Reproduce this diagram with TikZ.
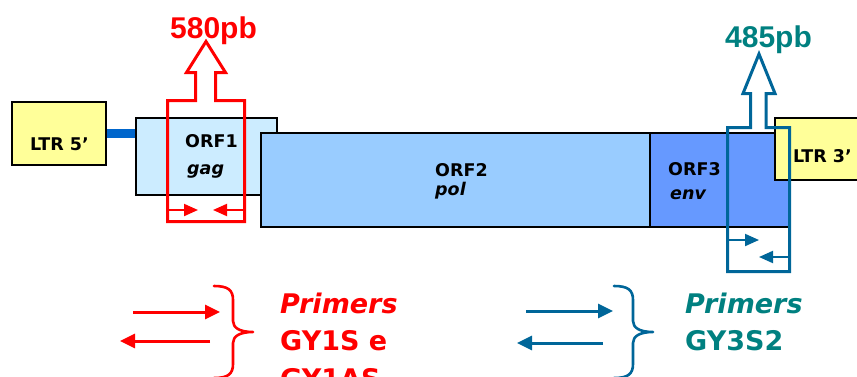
\documentclass[tikz,border=0pt]{standalone}
\usepackage{fontspec}
\setmainfont{DejaVu Sans}
\newfontfamily\arialb{Liberation Sans}
\usetikzlibrary{arrows.meta}
\definecolor{ltry}{HTML}{FFFF99}
\definecolor{orfa}{HTML}{CCECFF}
\definecolor{orfb}{HTML}{99CCFF}
\definecolor{orfc}{HTML}{6699FF}
\definecolor{linkblue}{HTML}{0066CC}
\definecolor{pblue}{HTML}{006699}
\definecolor{pteal}{HTML}{008080}
\definecolor{pred}{HTML}{FF0000}
\tikzset{
  genebox/.style={draw=black, line width=1.8pt, inner sep=0pt, anchor=north west},
  lbl/.style={inner sep=0pt, anchor=base west, font=\bfseries\fontsize{17.5}{18}\selectfont},
  ilbl/.style={inner sep=0pt, anchor=base west, font=\bfseries\itshape\fontsize{17.5}{18}\selectfont},
  pblbl/.style={inner sep=0pt, anchor=base west, font=\arialb\bfseries\fontsize{30}{30}\selectfont},
  primtxt/.style={inner sep=0pt, anchor=base west, font=\bfseries\fontsize{27}{27}\selectfont},
  primital/.style={inner sep=0pt, anchor=base west, font=\bfseries\itshape\fontsize{27}{27}\selectfont},
  inarrow/.style={line width=2pt, -{Triangle[length=14pt,width=12pt]}},
  primarrow/.style={line width=3pt, -{Triangle[length=15pt,width=14pt]}},
  bracep/.style={line width=2.6pt, line cap=round, line join=round},
}
\begin{document}
\begin{tikzpicture}[x=1pt,y=-1pt]
\useasboundingbox (0,0) rectangle (857,376);
\begin{scope}
\clip (0,0) rectangle (857,376);
% boxes
\node[genebox, fill=ltry, minimum width=94pt, minimum height=63pt] (ltr5) at (11,101) {};
\node[genebox, fill=orfa, minimum width=141pt, minimum height=77pt] (orf1) at (135,117) {};
\draw[linkblue, line width=9pt] (ltr5.east) -- (ltr5.east -| orf1.west);
\node[genebox, fill=orfb, minimum width=389pt, minimum height=94pt] (orf2) at (260,132) {};
\node[genebox, fill=orfc, minimum width=139pt, minimum height=94pt] (orf3) at (649,132) {};
\node[genebox, fill=ltry, minimum width=100pt, minimum height=62pt] (ltr3) at (774,117) {};
% labels
\node[lbl] (tltr5) at (30,150) {LTR 5’};
\node[lbl] (torf1) at (185,147) {ORF1};
\node[ilbl] (tgag) at (187,174) {gag};
\node[lbl] (torf2) at (435,176) {ORF2};
\node[ilbl] (tpol) at (435,195) {pol};
\node[lbl] (torf3) at (668,175) {ORF3};
\node[ilbl] (tenv) at (670,199) {env};
\node[lbl] (tltr3) at (793,162) {LTR 3’};
% red amplicon outline
\draw[pred, line width=3pt, line join=miter]
  (167.5,100.5) -- (195.5,100.5) -- (195.5,72.5) -- (186.5,72.5) -- (206,41.5)
  -- (225.5,72.5) -- (215.5,72.5) -- (215.5,100.5) -- (244.5,100.5)
  -- (244.5,221.5) -- (167.5,221.5) -- cycle;
\coordinate (ra1) at (169,210);
\coordinate (ra2) at (198,210);
\coordinate (rb1) at (243,210);
\coordinate (rb2) at (213,210);
\draw[pred, inarrow] (ra1) -- (ra2);
\draw[pred, inarrow] (rb1) -- (rb2);
\node[pblbl, text=pred] (p580) at (170,38) {580pb};
% blue amplicon outline
\draw[pblue, line width=3pt, line join=miter]
  (727.5,127.5) -- (750.5,127.5) -- (750.5,93.5) -- (743,93.5) -- (759,54)
  -- (775,93.5) -- (766,93.5) -- (766,127.5) -- (789.5,127.5)
  -- (789.5,271.5) -- (727.5,271.5) -- cycle;
\coordinate (ba1) at (729,240);
\coordinate (ba2) at (759,240);
\coordinate (bb1) at (788,257);
\coordinate (bb2) at (759,257);
\draw[pblue, inarrow] (ba1) -- (ba2);
\draw[pblue, inarrow] (bb1) -- (bb2);
\node[pblbl, text=pteal] (p485) at (725,47) {485pb};
% bottom red primers
\coordinate (rp1s) at (133,312);
\coordinate (rp1e) at (220,312);
\coordinate (rp2s) at (210,341);
\coordinate (rp2e) at (120,341);
\draw[pred, primarrow] (rp1s) -- (rp1e);
\draw[pred, primarrow] (rp2s) -- (rp2e);
\draw[pred, bracep] (214,286) .. controls (228,286) and (233,290) .. (233,300)
  -- (233,321) .. controls (233,328) and (240,332) .. (253,332)
  .. controls (240,332) and (233,336) .. (233,343)
  -- (233,364) .. controls (233,374) and (228,378) .. (214,378);
\node[primital, text=pred] (rprim) at (280,313) {Primers};
\node[primtxt, text=pred] (rgy1) at (280,350) {GY1S e};
\node[primtxt, text=pred] (rgy2) at (280,388) {GY1AS};
% bottom blue primers
\coordinate (bp1s) at (526,311);
\coordinate (bp1e) at (613,311);
\coordinate (bp2s) at (603,343);
\coordinate (bp2e) at (517,343);
\draw[pblue, primarrow] (bp1s) -- (bp1e);
\draw[pblue, primarrow] (bp2s) -- (bp2e);
\draw[pblue, bracep] (614,286) .. controls (628,286) and (633,290) .. (633,300)
  -- (633,321) .. controls (633,328) and (640,332) .. (653,332)
  .. controls (640,332) and (633,336) .. (633,343)
  -- (633,364) .. controls (633,374) and (628,378) .. (614,378);
\node[primital, text=pteal] (bprim) at (685,313) {Primers};
\node[primtxt, text=pteal] (bgy) at (685,350) {GY3S2};
\end{scope}
\end{tikzpicture}
\end{document}
